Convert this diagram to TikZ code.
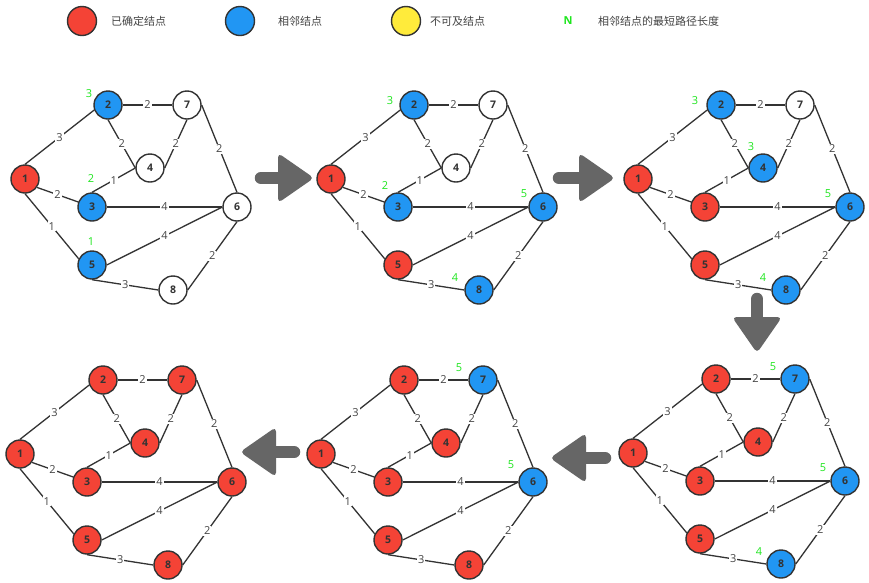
\documentclass[tikz,border=0pt]{standalone}
\usepackage{fontspec}
\setmainfont{Open Sans}
\newfontfamily\cjk{Noto Sans CJK SC}
\usetikzlibrary{calc}

\definecolor{donered}{HTML}{F44336}
\definecolor{nearblue}{HTML}{2196F3}
\definecolor{faryellow}{HTML}{FFEB3B}
\definecolor{distgreen}{HTML}{1EE61E}
\definecolor{inkgray}{HTML}{333333}
\definecolor{wtgray}{HTML}{444444}
\definecolor{arrowgray}{HTML}{666666}

\tikzset{
  vtx/.style={circle,draw=inkgray,line width=1.4pt,minimum size=28pt,inner sep=0pt,
    text=inkgray,font=\fontsize{10.5}{12}\selectfont\bfseries},
  settled/.style={fill=donered},
  frontier/.style={fill=nearblue},
  untouched/.style={fill=white},
  unreach/.style={fill=faryellow},
  edge/.style={draw=inkgray,line width=1.3pt},
  wt/.style={fill=white,inner sep=1pt,text=wtgray,font=\fontsize{11}{12}\selectfont},
  dlabel/.style={text=distgreen,inner sep=0pt,font=\fontsize{11}{12}\selectfont},
  legtext/.style={anchor=west,inner sep=0pt,text=wtgray,font=\cjk\fontsize{11}{13}\selectfont},
}

% one stage of the graph: prefix, origin (node 1), fills of nodes 2..8
\newcommand{\dijkstage}[9]{%
  \begin{scope}[shift={#2}]
    \node[vtx,settled] (#1-1) at (0,0) {1};
    \node[vtx,#3] (#1-2) at (83,-74) {2};
    \node[vtx,#4] (#1-3) at (67,28) {3};
    \node[vtx,#5] (#1-4) at (125,-11) {4};
    \node[vtx,#6] (#1-5) at (67,86) {5};
    \node[vtx,#7] (#1-6) at (212,28) {6};
    \node[vtx,#8] (#1-7) at (162,-74) {7};
    \node[vtx,#9] (#1-8) at (148,111) {8};
  \end{scope}
  \draw[edge] (#1-1.north) -- node[wt] (#1-w12) {3} (#1-2.200);
  \draw[edge] (#1-2.east) -- node[wt] (#1-w27) {2} (#1-7.west);
  \draw[edge] (#1-2.south) -- node[wt] (#1-w24) {2} (#1-4.west);
  \draw[edge] (#1-4.east) -- node[wt] (#1-w47) {2} (#1-7.south);
  \draw[edge] (#1-7.east) -- node[wt] (#1-w76) {2} (#1-6.north);
  \draw[edge] (#1-1.-35) -- node[wt] (#1-w13) {2} (#1-3.160);
  \draw[edge] (#1-3.north) -- node[wt] (#1-w34) {1} (#1-4.west);
  \draw[edge] (#1-3.east) -- node[wt] (#1-w36) {4} (#1-6.west);
  \draw[edge] (#1-1.south) -- node[wt] (#1-w15) {1} (#1-5.155);
  \draw[edge] (#1-5.east) -- node[wt] (#1-w56) {4} (#1-6.west);
  \draw[edge] (#1-5.south) -- node[wt] (#1-w58) {3} (#1-8.west);
  \draw[edge] (#1-8.east) -- node[wt] (#1-w86) {2} (#1-6.south);
}

% green distance next to a node
\newcommand{\dist}[3]{\node[dlabel] (#1d) at ($(#1)+(#2)$) {#3};}

% big grey arrow between stages: tail, tip, name
\newcommand{\stagearrow}[3]{%
  \coordinate (#3-b) at ($(#2)!36pt!(#1)$);
  \draw[arrowgray,line width=12.5pt,line cap=round] (#1) -- (#3-b);
  \fill[arrowgray,rounded corners=4.5pt] (#3-b) -- ($(#3-b)!25pt!90:(#2)$) -- (#2)
    -- ($(#3-b)!25pt!-90:(#2)$) -- cycle;
}

\begin{document}
\begin{tikzpicture}[x=1pt,y=-1pt]
\useasboundingbox[fill=white] (0,0) rectangle (869,582);

% legend
\node[vtx,settled,minimum size=29pt] (key-settled) at (82,21) {};
\node[legtext] (key-settled-t) at (111,21) {已确定结点};
\node[vtx,frontier,minimum size=29pt] (key-frontier) at (240,21) {};
\node[legtext] (key-frontier-t) at (278,21) {相邻结点};
\node[vtx,unreach,minimum size=29pt] (key-unreach) at (406,21) {};
\node[legtext] (key-unreach-t) at (430,21) {不可及结点};
\node[dlabel,font=\fontsize{11}{12}\selectfont\bfseries] (key-dist) at (568,21) {N};
\node[legtext] (key-dist-t) at (598,21) {相邻结点的最短路径长度};

% stage 1
\dijkstage{a}{(25,179)}{frontier}{frontier}{untouched}{frontier}{untouched}{untouched}{untouched}
\dist{a-2}{-19,-11}{3}
\dist{a-3}{-1,-28}{2}
\dist{a-5}{-1,-23}{1}

% stage 2
\dijkstage{b}{(331,179)}{frontier}{frontier}{untouched}{settled}{frontier}{untouched}{frontier}
\dist{b-2}{-24,-4}{3}
\dist{b-3}{-13,-21}{2}
\dist{b-6}{-19,-13}{5}
\dist{b-8}{-24,-12}{4}

% stage 3
\dijkstage{c}{(638,179)}{frontier}{settled}{frontier}{settled}{frontier}{untouched}{frontier}
\dist{c-2}{-26,-4}{3}
\dist{c-4}{-12,-21}{3}
\dist{c-6}{-22,-13}{5}
\dist{c-8}{-23,-12}{4}

% stage 4
\dijkstage{d}{(633,453)}{settled}{settled}{settled}{settled}{frontier}{frontier}{frontier}
\dist{d-7}{-22,-12}{5}
\dist{d-6}{-22,-13}{5}
\dist{d-8}{-22,-12}{4}

% stage 5
\dijkstage{e}{(321,454)}{settled}{settled}{settled}{settled}{frontier}{frontier}{settled}
\dist{e-7}{-24,-12}{5}
\dist{e-6}{-22,-17}{5}

% stage 6
\dijkstage{f}{(20,454)}{settled}{settled}{settled}{settled}{settled}{settled}{settled}

% arrows between stages
\coordinate (s1) at (261,178); \coordinate (t1) at (314,178);
\coordinate (s2) at (559,178); \coordinate (t2) at (615,178);
\coordinate (s3) at (757,299); \coordinate (t3) at (757,353);
\coordinate (s4) at (605,458); \coordinate (t4) at (550,458);
\coordinate (s5) at (294,452); \coordinate (t5) at (240,452);
\stagearrow{s1}{t1}{ar1}
\stagearrow{s2}{t2}{ar2}
\stagearrow{s3}{t3}{ar3}
\stagearrow{s4}{t4}{ar4}
\stagearrow{s5}{t5}{ar5}
\end{tikzpicture}
\end{document}
